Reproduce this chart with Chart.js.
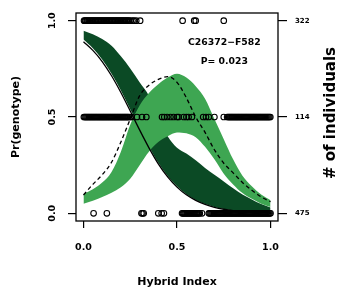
<!DOCTYPE html>
<html>
  <head>
    <script src="https://cdn.jsdelivr.net/npm/chart.js@4/dist/chart.umd.min.js"></script>
    <style>
      body { margin: 0; background: #fff; }
    </style>
  </head>

  <body>
    <canvas id="canvas" width="345" height="297"></canvas>
    <script>
      // hybrid index grid for the fitted clines
      const hybridIndex = [0, 0.05, 0.1, 0.15, 0.2, 0.25, 0.3, 0.35, 0.4, 0.45, 0.5,
        0.55, 0.6, 0.65, 0.7, 0.75, 0.8, 0.85, 0.9, 0.95, 1];

      // homozygote cline (dark band) and its neutral expectation (solid line)
      const homUpper = [0.948, 0.93, 0.905, 0.87, 0.815, 0.752, 0.68, 0.61, 0.5, 0.4, 0.34,
        0.31, 0.275, 0.235, 0.2, 0.165, 0.13, 0.098, 0.072, 0.048, 0.03];
      const homLower = [0.902, 0.857, 0.798, 0.724, 0.637, 0.54, 0.441, 0.347, 0.263, 0.194, 0.14,
        0.099, 0.069, 0.048, 0.033, 0.022, 0.015, 0.01, 0.007, 0.005, 0.003];
      const homNeutral = [0.891, 0.846, 0.788, 0.714, 0.627, 0.531, 0.433, 0.34, 0.257, 0.189, 0.136,
        0.096, 0.067, 0.046, 0.031, 0.021, 0.014, 0.01, 0.007, 0.004, 0.003];

      // heterozygote cline (light band) and its neutral expectation (dashed line)
      const hetUpper = [0.1, 0.125, 0.16, 0.215, 0.32, 0.46, 0.56, 0.625, 0.67, 0.705, 0.725,
        0.705, 0.66, 0.595, 0.49, 0.385, 0.28, 0.195, 0.14, 0.097, 0.068];
      const hetLower = [0.05, 0.065, 0.085, 0.107, 0.135, 0.18, 0.25, 0.32, 0.37, 0.4, 0.42,
        0.415, 0.395, 0.345, 0.28, 0.205, 0.15, 0.105, 0.075, 0.05, 0.033];
      const hetNeutral = [0.095, 0.15, 0.2, 0.265, 0.37, 0.49, 0.61, 0.665, 0.695, 0.71, 0.68,
        0.6, 0.5, 0.42, 0.33, 0.26, 0.21, 0.16, 0.12, 0.085, 0.06];

      // individuals: hybrid index of each genotype class
      const genotype1 = [0.003, 0.008, 0.012, 0.018, 0.022, 0.027, 0.033, 0.037, 0.043, 0.048,
        0.052, 0.058, 0.063, 0.067, 0.073, 0.078, 0.082, 0.088, 0.093, 0.097, 0.103, 0.108,
        0.112, 0.118, 0.123, 0.127, 0.133, 0.138, 0.142, 0.148, 0.153, 0.157, 0.163, 0.168,
        0.172, 0.178, 0.183, 0.187, 0.193, 0.198, 0.202, 0.208, 0.213, 0.217, 0.223, 0.228,
        0.232, 0.238, 0.243, 0.25, 0.262, 0.27, 0.282, 0.303, 0.53, 0.592, 0.6, 0.75];
      const genotypeHet = [0.002, 0.007, 0.012, 0.017, 0.022, 0.027, 0.032, 0.037, 0.042, 0.047,
        0.052, 0.057, 0.062, 0.067, 0.072, 0.077, 0.082, 0.087, 0.092, 0.097, 0.102, 0.107,
        0.112, 0.117, 0.122, 0.127, 0.132, 0.137, 0.142, 0.147, 0.152, 0.157, 0.162, 0.167,
        0.172, 0.177, 0.182, 0.187, 0.192, 0.197, 0.202, 0.207, 0.212, 0.217, 0.222, 0.227,
        0.232, 0.237, 0.242, 0.25, 0.258, 0.286, 0.313, 0.336, 0.42, 0.432, 0.447, 0.465,
        0.482, 0.5, 0.509, 0.536, 0.55, 0.562, 0.58, 0.64, 0.655, 0.67, 0.7, 0.75, 0.768,
        0.774, 0.779, 0.784, 0.789, 0.794, 0.799, 0.804, 0.809, 0.814, 0.819, 0.824, 0.829,
        0.834, 0.839, 0.844, 0.849, 0.854, 0.859, 0.864, 0.869, 0.874, 0.879, 0.884, 0.889,
        0.894, 0.899, 0.904, 0.909, 0.914, 0.919, 0.924, 0.929, 0.934, 0.939, 0.944, 0.949,
        0.954, 0.959, 0.964, 0.969, 0.974, 0.979, 0.984, 0.989, 0.994, 0.999];
      const genotype0 = [0.054, 0.125, 0.31, 0.316, 0.322, 0.4, 0.418, 0.43, 0.527, 0.532,
        0.537, 0.542, 0.547, 0.552, 0.557, 0.562, 0.567, 0.572, 0.577, 0.582, 0.587, 0.592,
        0.597, 0.602, 0.607, 0.612, 0.617, 0.622, 0.634, 0.67, 0.675, 0.68, 0.685, 0.69, 0.695,
        0.7, 0.705, 0.71, 0.715, 0.72, 0.725, 0.73, 0.735, 0.74, 0.745, 0.75, 0.755, 0.76,
        0.765, 0.77, 0.775, 0.78, 0.785, 0.79, 0.795, 0.8, 0.805, 0.81, 0.815, 0.82, 0.825,
        0.83, 0.835, 0.84, 0.845, 0.85, 0.855, 0.86, 0.865, 0.87, 0.875, 0.88, 0.885, 0.89,
        0.895, 0.9, 0.905, 0.91, 0.915, 0.92, 0.925, 0.93, 0.935, 0.94, 0.945, 0.95, 0.955,
        0.96, 0.965, 0.97, 0.975, 0.98, 0.985, 0.99, 0.995, 1.0];

      const axisTicks = [0, 0.5, 1];
      const countLabels = ['475', '114', '322'];
      const locusName = 'C26372\u2212F582';
      const pValueText = 'P= 0.023';

      const FONT = 'DejaVu Sans';
      const toXY = (ys) => ys.map((y, i) => ({ x: hybridIndex[i], y: y }));
      const points = [].concat(
        genotype1.map((x) => ({ x: x, y: 1 })),
        genotypeHet.map((x) => ({ x: x, y: 0.5 })),
        genotype0.map((x) => ({ x: x, y: 0 }))
      );

      const curve = { pointRadius: 0, cubicInterpolationMode: 'monotone' };
      const band = Object.assign({}, curve, { borderWidth: 0, borderColor: 'rgba(0,0,0,0)' });
      const zeroPadding = (s) => {
        s.paddingTop = 0; s.paddingBottom = 0; s.paddingLeft = 0; s.paddingRight = 0;
      };
      const fixedTicks = (s) => { s.ticks = axisTicks.map((v) => ({ value: v })); };
      const tickGrid = (len) => ({
        display: true, drawOnChartArea: false, drawTicks: true,
        tickLength: len, color: '#000', lineWidth: 1.2,
      });

      const boxAndText = {
        id: 'boxAndText',
        afterDatasetsDraw(chart) {
          const { ctx, chartArea: a, scales } = chart;
          ctx.save();
          ctx.strokeStyle = '#000';
          ctx.lineWidth = 1.3;
          ctx.strokeRect(a.left, a.top, a.right - a.left, a.bottom - a.top);
          ctx.fillStyle = '#000';
          ctx.textAlign = 'center';
          ctx.textBaseline = 'middle';
          ctx.font = 'bold 9.3px "' + FONT + '"';
          ctx.fillText(locusName, scales.x.getPixelForValue(0.753), scales.y.getPixelForValue(0.887));
          ctx.fillText(pValueText, scales.x.getPixelForValue(0.753), scales.y.getPixelForValue(0.79));
          ctx.font = 'bold 15px "' + FONT + '"';
          ctx.translate(a.right + 53.5, (a.top + a.bottom) / 2 - 4);
          ctx.rotate(-Math.PI / 2);
          ctx.fillText('# of individuals', 0, 0);
          ctx.restore();
        },
      };

      new Chart(document.getElementById('canvas').getContext('2d'), {
        type: 'line',
        data: {
          datasets: [
            {
              data: points, showLine: false, order: 0,
              pointStyle: 'circle', pointRadius: 2.8, borderWidth: 1.1,
              pointBorderColor: '#000', pointBackgroundColor: 'rgba(0,0,0,0)',
            },
            Object.assign({}, curve, {
              data: toXY(hetNeutral), order: 1, borderColor: '#000', borderWidth: 1.3,
              borderDash: [4, 3], fill: false,
            }),
            Object.assign({}, curve, {
              data: toXY(homNeutral), order: 2, borderColor: '#000', borderWidth: 1.3, fill: false,
            }),
            Object.assign({}, band, {
              data: toXY(hetUpper), order: 3, fill: '+1', backgroundColor: '#3ea652',
            }),
            Object.assign({}, band, { data: toXY(hetLower), order: 3, fill: false }),
            Object.assign({}, band, {
              data: toXY(homUpper), order: 5, fill: '+1', backgroundColor: '#0b4a25',
            }),
            Object.assign({}, band, { data: toXY(homLower), order: 5, fill: false }),
          ],
        },
        options: {
          responsive: false,
          animation: false,
          events: [],
          layout: { padding: { top: 13, left: 0, right: 0, bottom: 0 } },
          plugins: { legend: { display: false }, tooltip: { enabled: false } },
          scales: {
            x: {
              type: 'linear', position: 'bottom', min: -0.04, max: 1.04,
              afterBuildTicks: fixedTicks,
              afterFit: (s) => { s.height = 76; zeroPadding(s); },
              grid: tickGrid(7),
              border: { display: false },
              ticks: {
                autoSkip: false, maxRotation: 0, minRotation: 0, padding: 14, color: '#000',
                font: { family: FONT, size: 9.5, weight: 'bold' },
                callback: (v) => Number(v).toFixed(1),
              },
              title: {
                display: true, text: 'Hybrid Index', color: '#000',
                font: { family: FONT, size: 11, weight: 'bold' },
                padding: { top: 0, bottom: 8 },
              },
            },
            y: {
              type: 'linear', position: 'left', min: -0.04, max: 1.04,
              afterBuildTicks: fixedTicks,
              afterFit: (s) => { s.width = 76; zeroPadding(s); },
              grid: tickGrid(8),
              border: { display: false },
              ticks: {
                autoSkip: false, minRotation: 90, maxRotation: 90, crossAlign: 'center',
                padding: 7, color: '#000',
                font: { family: FONT, size: 9.5, weight: 'bold' },
                callback: (v) => Number(v).toFixed(1),
              },
              title: {
                display: true, text: 'Pr(genotype)', color: '#000',
                font: { family: FONT, size: 11, weight: 'bold' },
                padding: { top: 10, bottom: 0 },
              },
            },
            y2: {
              type: 'linear', position: 'right', min: -0.04, max: 1.04,
              afterBuildTicks: fixedTicks,
              afterFit: (s) => { s.width = 67; zeroPadding(s); },
              grid: tickGrid(9),
              border: { display: false },
              ticks: {
                autoSkip: false, padding: 8, color: '#000',
                font: { family: FONT, size: 7, weight: 'bold' },
                callback: (v) => countLabels[axisTicks.indexOf(v)],
              },
            },
          },
        },
        plugins: [boxAndText],
      });
    </script>
  </body>
</html>
